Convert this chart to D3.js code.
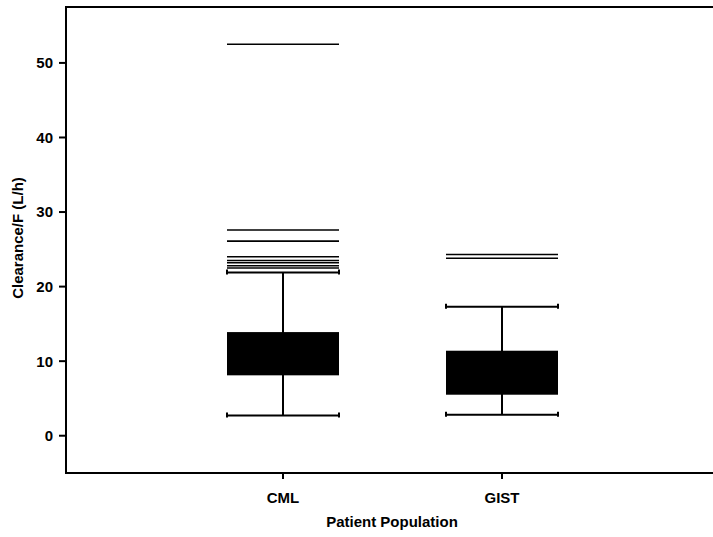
<!DOCTYPE html>
<meta charset="utf-8">
<script src="https://d3js.org/d3.v7.min.js"></script>
<style>
  body { margin: 0; background: #fff; }
  text { font-family: "Liberation Sans", Arial, sans-serif; font-weight: bold; fill: #000; }
</style>
<div id="chart"></div>
<script>
// data
var groups = ["CML", "GIST"];
var lowerWhisker = [2.7, 2.8];
var q1 = [8.1, 5.5];
var q3 = [13.9, 11.4];
var upperWhisker = [21.9, 17.3];
var cmlOutliers = [52.5, 27.6, 26.1, 24.0, 23.5, 23.2, 22.8, 22.5];
var gistOutliers = [24.3, 23.8];
var yTicks = [0, 10, 20, 30, 40, 50];

var outliers = [cmlOutliers, gistOutliers];

var W = 713, H = 537;
var margin = {top: 7, right: 0, bottom: 64, left: 66};

var svg = d3.select("#chart").append("svg")
  .attr("width", W).attr("height", H);

var x = d3.scalePoint().domain(groups).range([283, 502]);
var y = d3.scaleLinear().domain([-5, 57.5]).range([H - margin.bottom, margin.top]);
var half = 56;

var boxes = groups.map(function(g, i) {
  return {g: g, lo: lowerWhisker[i], q1: q1[i], q3: q3[i], hi: upperWhisker[i], out: outliers[i]};
});

var g = svg.selectAll(".box").data(boxes).enter().append("g");

// whisker stem
g.append("line")
  .attr("x1", function(d) { return x(d.g); }).attr("x2", function(d) { return x(d.g); })
  .attr("y1", function(d) { return y(d.lo); }).attr("y2", function(d) { return y(d.hi); })
  .attr("stroke", "#000").attr("stroke-width", 2);

// whisker caps with small end hooks
["lo", "hi"].forEach(function(k) {
  g.append("line")
    .attr("x1", function(d) { return x(d.g) - half; }).attr("x2", function(d) { return x(d.g) + half; })
    .attr("y1", function(d) { return y(d[k]); }).attr("y2", function(d) { return y(d[k]); })
    .attr("stroke", "#000").attr("stroke-width", 2);
  [-half, half].forEach(function(off) {
    g.append("line")
      .attr("x1", function(d) { return x(d.g) + off; }).attr("x2", function(d) { return x(d.g) + off; })
      .attr("y1", function(d) { return y(d[k]) - 3; })
      .attr("y2", function(d) { return y(d[k]) + 2; })
      .attr("stroke", "#000").attr("stroke-width", 2);
  });
});

// box
g.append("rect")
  .attr("x", function(d) { return x(d.g) - half; })
  .attr("width", half * 2)
  .attr("y", function(d) { return y(d.q3); })
  .attr("height", function(d) { return y(d.q1) - y(d.q3); })
  .attr("fill", "#000");

// outliers drawn as horizontal lines
g.selectAll(".out").data(function(d) { return d.out.map(function(v) { return {g: d.g, v: v}; }); })
  .enter().append("line")
  .attr("x1", function(d) { return x(d.g) - half; }).attr("x2", function(d) { return x(d.g) + half; })
  .attr("y1", function(d) { return y(d.v); }).attr("y2", function(d) { return y(d.v); })
  .attr("stroke", "#000").attr("stroke-width", 1.6);

// frame: left, bottom, top
var x0 = margin.left, yb = H - margin.bottom;
svg.append("path")
  .attr("d", "M" + W + "," + margin.top + "H" + x0 + "V" + yb + "H" + W)
  .attr("fill", "none").attr("stroke", "#000").attr("stroke-width", 2);

// y axis ticks
var yAxis = svg.append("g");
yAxis.selectAll("line").data(yTicks).enter().append("line")
  .attr("x1", x0 - 7).attr("x2", x0)
  .attr("y1", function(d) { return y(d); }).attr("y2", function(d) { return y(d); })
  .attr("stroke", "#000").attr("stroke-width", 2);
yAxis.selectAll("text").data(yTicks).enter().append("text")
  .attr("x", x0 - 13).attr("y", function(d) { return y(d); })
  .attr("dy", "0.36em").attr("text-anchor", "end")
  .style("font-size", "15px")
  .text(function(d) { return d; });

// x axis ticks
var xAxis = svg.append("g");
xAxis.selectAll("line").data(groups).enter().append("line")
  .attr("x1", function(d) { return x(d); }).attr("x2", function(d) { return x(d); })
  .attr("y1", yb).attr("y2", yb + 6)
  .attr("stroke", "#000").attr("stroke-width", 2);
xAxis.selectAll("text").data(groups).enter().append("text")
  .attr("x", function(d) { return x(d); }).attr("y", yb + 30)
  .attr("text-anchor", "middle").style("font-size", "15px")
  .text(function(d) { return d; });

// axis titles
svg.append("text")
  .attr("x", 392).attr("y", 527).attr("text-anchor", "middle")
  .style("font-size", "15px").text("Patient Population");
svg.append("text")
  .attr("transform", "translate(23,238)rotate(-90)").attr("text-anchor", "middle")
  .style("font-size", "15px").text("Clearance/F (L/h)");
</script>
